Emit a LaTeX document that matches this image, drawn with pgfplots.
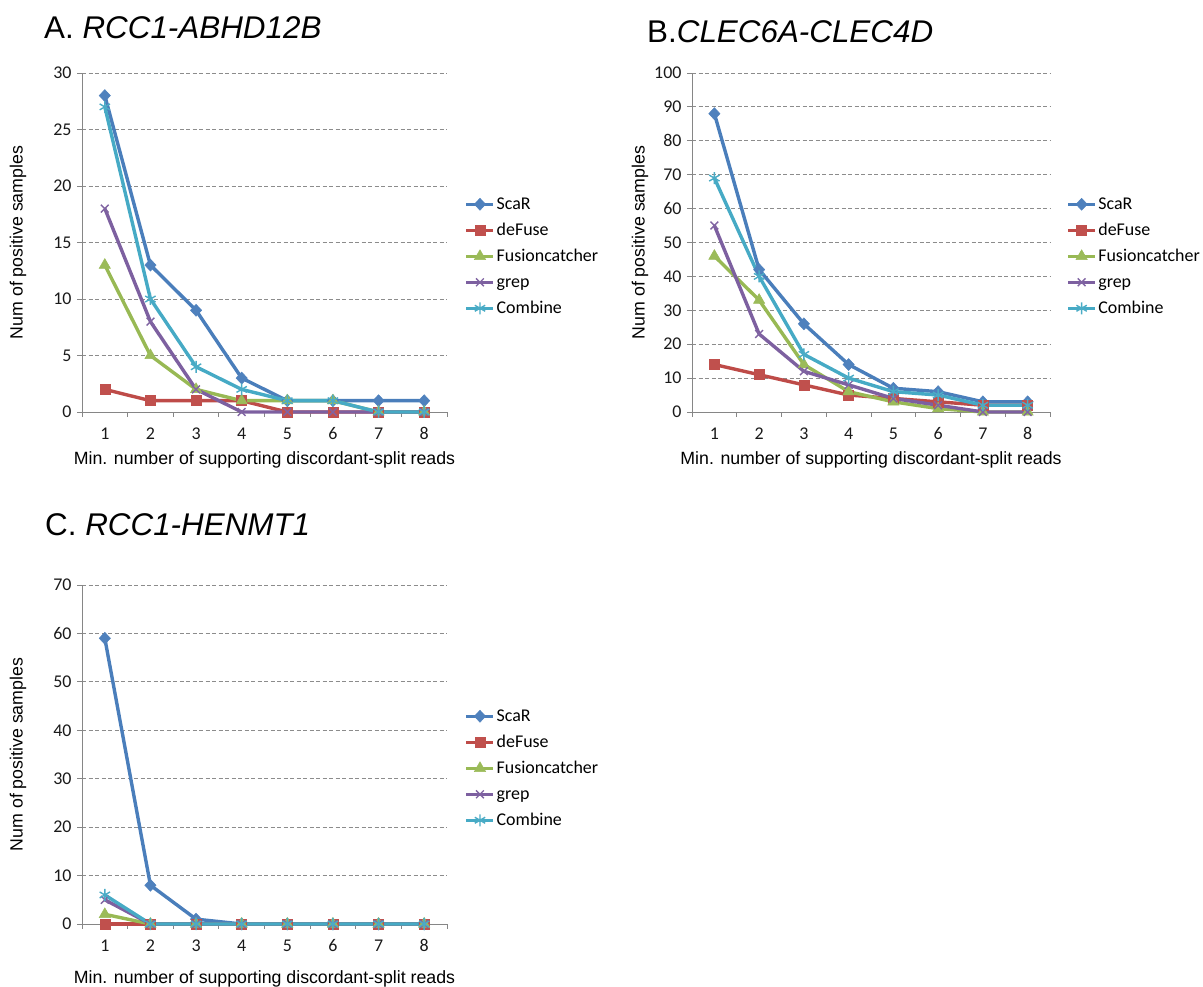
\documentclass[border=0pt]{standalone}
\usepackage{fontspec}
\setmainfont{Liberation Sans}
\newfontfamily\calibri{Carlito}
\usepackage{pgfplots}
\usepackage{pgfplotstable}
\pgfplotsset{compat=1.18}

\definecolor{lScaR}{HTML}{4A7EBB}\definecolor{mScaR}{HTML}{4F81BD}
\definecolor{lDeF}{HTML}{BE4B48}\definecolor{mDeF}{HTML}{C0504D}
\definecolor{lFus}{HTML}{98B954}\definecolor{mFus}{HTML}{9BBB59}
\definecolor{lGrep}{HTML}{7D60A0}\definecolor{mGrep}{HTML}{8064A2}
\definecolor{lComb}{HTML}{46AAC5}\definecolor{mComb}{HTML}{4BACC6}
\definecolor{axgray}{HTML}{868686}
\definecolor{gridgray}{HTML}{8C8C8C}

% min. supporting reads vs. number of positive samples
\pgfplotstableread{
x scar defuse fusion grep combine
1 28 2 13 18 27
2 13 1 5 8 10
3 9 1 2 2 4
4 3 1 1 0 2
5 1 0 1 0 1
6 1 0 1 0 1
7 1 0 0 0 0
8 1 0 0 0 0
}\tabA
\pgfplotstableread{
x scar defuse fusion grep combine
1 88 14 46 55 69
2 42 11 33 23 40
3 26 8 14 12 17
4 14 5 6 8 10
5 7 4 3 4 6
6 6 3 1 2 5
7 3 2 0 0 2
8 3 2 0 0 2
}\tabB
\pgfplotstableread{
x scar defuse fusion grep combine
1 59 0 2 5 6
2 8 0 0 0 0
3 1 0 0 0 0
4 0 0 0 0 0
5 0 0 0 0 0
6 0 0 0 0 0
7 0 0 0 0 0
8 0 0 0 0 0
}\tabC

\pgfplotsset{
  fuspanel/.style={
    scale only axis, width=365bp, height=339bp,
    xmin=0.5, xmax=8.5, ymin=0,
    axis x line*=bottom, axis y line*=left,
    axis line style={draw=axgray, line width=0.9bp, -},
    tick align=outside, major tick length=5bp,
    tick style={draw=axgray, line width=0.9bp},
    xtick={0.5,1.5,...,8.5}, xticklabels={},
    extra x ticks={1,2,3,4,5,6,7,8},
    extra x tick labels={1,2,3,4,5,6,7,8},
    extra x tick style={major tick length=0pt, xticklabel style={yshift=-12bp}},
    /pgf/number format/assume math mode=true,
    tick label style={font=\calibri\fontsize{18}{18}\selectfont, text=black!90},
    yticklabel style={xshift=-2bp},
    ymajorgrids, grid style={draw=gridgray, line width=0.9bp, dash pattern=on 4bp off 2.5bp},
    xlabel={Min. number of supporting discordant-split reads},
    ylabel={Num of positive samples},
    label style={font=\fontsize{17.8}{17.8}\selectfont},
    xlabel style={at={(axis description cs:0.5,0)}, anchor=base, yshift=-53bp},
    ylabel style={at={(axis description cs:-0.175,0.5)}, anchor=center},
    clip=false,
    legend style={at={(1.04,0.648)}, anchor=north west, draw=none, fill=none,
      font=\calibri\fontsize{18}{18}\selectfont,
      nodes={inner sep=1.5bp, text height=13bp, text depth=3.5bp},
      row sep=6.5bp},
    legend cell align=left,
    legend image code/.code={\draw[mark repeat=2,mark phase=2,##1] plot coordinates {(0bp,0bp)(13.5bp,0bp)(27bp,0bp)};},
  },
  sScaR/.style={draw=lScaR, line width=3.4bp, mark=diamond*, mark size=6bp,
    mark options={fill=mScaR, draw=mScaR, line width=0.5bp, xscale=1.25}},
  sDeF/.style={draw=lDeF, line width=3.4bp, mark=square*, mark size=5bp,
    mark options={fill=mDeF, draw=mDeF, line width=0.5bp}},
  sFus/.style={draw=lFus, line width=3.4bp, mark=triangle*, mark size=6.5bp,
    mark options={fill=mFus, draw=mFus, line width=0.5bp}},
  sGrep/.style={draw=lGrep, line width=3.4bp, mark=x, mark size=5.5bp,
    mark options={draw=mGrep, line width=1.4bp}},
  sComb/.style={draw=lComb, line width=3.4bp, mark=asterisk, mark size=6bp,
    mark options={draw=mComb, line width=1.4bp}},
}

\newcommand{\allseries}[1]{%
  \addplot[sScaR] table[x=x, y=scar] {#1};
  \addplot[sDeF] table[x=x, y=defuse] {#1};
  \addplot[sFus] table[x=x, y=fusion] {#1};
  \addplot[sGrep] table[x=x, y=grep] {#1};
  \addplot[sComb] table[x=x, y=combine] {#1};
  \legend{ScaR,deFuse,Fusioncatcher,grep,Combine}%
}

\begin{document}
\begin{tikzpicture}
\path[use as bounding box] (0,0) rectangle (1203bp,987bp);

\node[anchor=base west, inner sep=0pt, font=\fontsize{31.5}{31.5}\selectfont] at (44bp,948bp) {A. \textit{RCC1-ABHD12B}};
\node[anchor=base west, inner sep=0pt, font=\fontsize{31.5}{31.5}\selectfont] at (647bp,944bp) {B.\textit{CLEC6A-CLEC4D}};
\node[anchor=base west, inner sep=0pt, font=\fontsize{31.5}{31.5}\selectfont] at (45bp,451bp) {C. \textit{RCC1-HENMT1}};

\begin{axis}[fuspanel, at={(82bp,575bp)}, anchor=south west, ymax=30, ytick={0,5,...,30}]
\allseries{\tabA}
\end{axis}

\begin{axis}[fuspanel, at={(692bp,575bp)}, anchor=south west, width=358bp,
  ymax=100, ytick={0,10,...,100},
  ylabel style={at={(axis description cs:-0.145,0.5)}},
  legend style={at={(1.037,0.648)}}]
\allseries{\tabB}
\end{axis}

\begin{axis}[fuspanel, at={(82bp,63bp)}, anchor=south west, ymax=70, ytick={0,10,...,70},
  xlabel style={yshift=-6bp}]
\allseries{\tabC}
\end{axis}
\end{tikzpicture}
\end{document}
